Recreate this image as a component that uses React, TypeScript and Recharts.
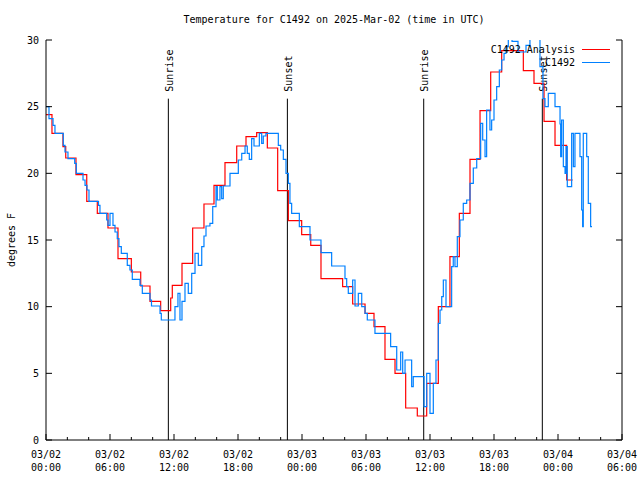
import React from "react";
import { Legend, Line, LineChart, ReferenceLine, XAxis, YAxis } from "recharts";

const FONT = "'DejaVu Sans Mono', 'Liberation Mono', monospace";

// hours since 03/02 00:00 UTC
const analysisHours = [
  0, 0.56, 1.59, 1.85, 2.81, 3.82, 4.81, 5.81, 6.75, 8.0, 8.88, 9.75, 10.75,
  11.69, 11.84, 12.75, 13.75, 14.81, 15.75, 16.78, 17.88, 18.75, 19.75, 20.75,
  21.72, 22.72, 23.97, 24.82, 25.78, 27.81, 28.75, 29.91, 30.75, 31.78, 32.72,
  33.72, 34.81, 35.69, 36.78, 37.87, 38.75, 39.75, 40.69, 41.69, 42.72, 44.75,
  45.75, 46.69, 47.72, 48.81, 49.38,
];
const analysisTemps = [
  24.4, 23.0, 22.0, 21.15, 19.9, 17.9, 17.0, 15.9, 13.6, 12.6, 11.55, 10.4, 9.7,
  10.65, 11.6, 13.25, 15.9, 17.7, 19.1, 20.8, 22.05, 22.75, 23.05, 21.9,
  18.7, 16.45, 15.4, 14.6, 12.1, 11.5, 10.2, 9.5, 8.5, 6.05, 5.0,
  2.4, 1.8, 4.25, 10.0, 13.75, 17.0, 21.05, 24.7, 27.6, 29.2, 27.7,
  26.75, 23.9, 22.1, 19.5, 19.5,
];

const obsHours = [
  0, 0.28, 0.66, 0.84, 1.62, 1.78, 2.06, 2.69, 2.84, 3.47, 3.66, 3.84, 4.03,
  4.92, 5.06, 5.69, 5.81, 6.0, 6.28, 6.47, 6.68, 6.84, 7.06, 7.62, 7.87, 8.09,
  8.81, 9.03, 9.75, 9.89, 10.69, 10.81, 12.09, 12.37, 12.56, 12.75, 13.03,
  13.34, 13.66, 13.97, 14.28, 14.6, 14.81, 15.0, 15.37, 15.63, 15.94, 16.06,
  16.31, 16.47, 16.62, 17.25, 18.03, 18.35, 18.66, 18.87, 19.06, 19.28, 19.5,
  20.0, 20.22, 20.37, 20.62, 21.78, 22.0, 22.25, 22.5, 22.72, 22.87, 23.03,
  23.75, 24.75, 25.78, 26.78, 28.03, 28.19, 28.34, 28.75, 28.97, 29.28, 29.6,
  29.91, 30.12, 30.84, 32.31, 32.88, 33.25, 33.44, 33.66, 34.28, 34.43, 35.44,
  35.69, 36.0, 36.31, 36.56, 36.78, 36.94, 37.1, 37.25, 37.5, 38.03, 38.18,
  38.34, 38.56, 38.81, 39.12, 39.44, 39.75, 40.06, 40.38, 40.75, 40.94, 41.16,
  41.31, 41.62, 41.78, 42.0, 42.25, 42.5, 42.72, 42.94, 43.12, 43.34, 43.69,
  44.25, 45.0, 45.37, 46.31, 46.59, 46.78, 47.09, 47.72, 48.19, 48.25, 48.34,
  48.5, 48.66, 48.75, 48.87, 49.28, 49.44, 49.59, 50.06, 50.22, 50.31, 50.37,
  50.69, 50.84, 51.06, 51.19,
];
const obsTemps = [
  25.0, 24.1, 23.6, 23.0, 22.1, 21.6, 21.1, 20.75, 20.0, 19.5, 19.1, 18.75, 17.9,
  17.6, 17.0, 16.5, 16.1, 17.0, 16.1, 15.6, 15.1, 14.5, 14.0, 13.1, 12.75, 12.05,
  11.6, 11.0, 10.5, 10.05, 9.5, 9.0, 10.0, 11.0, 9.0, 10.4, 11.75,
  11.0, 12.5, 14.0, 13.1, 14.5, 15.3, 16.05, 16.25, 17.5, 19.0, 18.0,
  19.0, 18.1, 19.05, 20.0, 21.0, 21.5, 22.05, 21.5, 21.05, 22.6, 22.05,
  23.0, 22.25, 22.8, 23.0, 22.1, 21.75, 21.05, 20.0, 19.25, 17.75, 17.0,
  16.0, 15.0, 14.05, 13.05, 12.1, 11.5, 11.0, 12.0, 10.05, 11.0, 10.0,
  9.5, 9.0, 8.0, 7.0, 5.25, 6.6, 5.0, 6.0, 4.0, 4.75, 2.5,
  5.0, 2.0, 4.25, 6.0, 8.75, 9.75, 10.75, 12.0, 10.0, 13.0, 13.75,
  13.0, 15.25, 16.5, 17.75, 18.0, 19.25, 20.4, 21.1, 23.75, 22.5, 21.25,
  24.75, 23.25, 24.0, 25.5, 26.5, 27.75, 28.5, 29.0, 29.5, 30.5, 29.9,
  29.1, 29.6, 30.5, 28.0, 25.6, 25.0, 26.0, 25.0, 23.7, 21.25, 24.0,
  20.5, 20.0, 22.0, 19.0, 23.0, 20.5, 23.0, 21.25, 17.25, 16.0, 23.0,
  21.25, 17.75, 16.0, 16.0,
];

const hourTicks = [
  0, 2, 4, 6, 8, 10, 12, 14, 16, 18, 20, 22, 24, 26, 28, 30, 32, 34, 36, 38,
  40, 42, 44, 46, 48, 50, 52, 54,
];
const tempTicks = [0, 5, 10, 15, 20, 25, 30];

const sunEvents = [
  { name: "Sunrise", hour: 11.47 },
  { name: "Sunset", hour: 22.63 },
  { name: "Sunrise", hour: 35.41 },
  { name: "Sunset", hour: 46.53 },
];
const sunLineTop = 25.6;

const seriesNames = ["C1492 Analysis", "C1492"];
const seriesColors = ["#ff0000", "#0080ff"];

const title = "Temperature for C1492 on 2025-Mar-02 (time in UTC)";
const yTitle = "degrees F";

const analysisData = analysisHours.map((hour, i) => ({ hour, temp: analysisTemps[i] }));
const obsData = obsHours.map((hour, i) => ({ hour, temp: obsTemps[i] }));

function BottomTick({ x, y, payload }: any) {
  const v = payload.value as number;
  const major = v % 6 === 0;
  const day = 2 + Math.floor(v / 24);
  const hh = String(v % 24).padStart(2, "0");
  return (
    <g>
      <line x1={x} y1={y} x2={x} y2={y - (major ? 6 : 3)} stroke="#000" />
      {major && (
        <text textAnchor="middle" fontFamily={FONT} fontSize={10} fill="#000">
          <tspan x={x} y={y + 18}>{`03/0${day}`}</tspan>
          <tspan x={x} y={y + 31}>{`${hh}:00`}</tspan>
        </text>
      )}
    </g>
  );
}

function TopTick({ x, y, payload }: any) {
  const major = payload.value % 6 === 0;
  return <line x1={x} y1={y} x2={x} y2={y + (major ? 6 : 3)} stroke="#000" />;
}

function LeftTick({ x, y, payload }: any) {
  return (
    <g>
      <line x1={x} y1={y} x2={x + 6} y2={y} stroke="#000" />
      <text x={x - 7} y={y + 3.5} textAnchor="end" fontFamily={FONT} fontSize={10} fill="#000">
        {payload.value}
      </text>
    </g>
  );
}

function RightTick({ x, y }: any) {
  return <line x1={x} y1={y} x2={x - 6} y2={y} stroke="#000" />;
}

function LegendBox() {
  return (
    <div style={{ fontFamily: FONT, fontSize: 10, color: "#000" }}>
      {seriesNames.map((name, i) => (
        <div
          key={name}
          style={{ display: "flex", justifyContent: "flex-end", alignItems: "center", height: 13 }}
        >
          <span style={{ lineHeight: "13px" }}>{name}</span>
          <span
            style={{
              display: "inline-block",
              width: 28,
              marginLeft: 7,
              borderTop: `1px solid ${seriesColors[i]}`,
            }}
          />
        </div>
      ))}
    </div>
  );
}

export default function App() {
  return (
    <div style={{ position: "absolute", left: 0, top: 0, width: 640, height: 480, background: "#fff" }}>
      <div
        style={{
          position: "absolute",
          left: 0,
          top: 14,
          width: 668,
          textAlign: "center",
          fontFamily: FONT,
          fontSize: 10,
          lineHeight: "12px",
          color: "#000",
          zIndex: 1,
        }}
      >
        {title}
      </div>
      <LineChart width={640} height={480} margin={{ top: 40, right: 0, bottom: 0, left: 0 }}>
        <XAxis
          type="number"
          dataKey="hour"
          domain={[0, 54]}
          ticks={hourTicks}
          interval={0}
          height={40}
          tickSize={0}
          tickMargin={0}
          tickLine={false}
          axisLine={{ stroke: "#000" }}
          tick={<BottomTick />}
        />
        <XAxis
          xAxisId="top"
          orientation="top"
          type="number"
          dataKey="hour"
          domain={[0, 54]}
          ticks={hourTicks}
          interval={0}
          height={0}
          tickSize={0}
          tickMargin={0}
          tickLine={false}
          axisLine={{ stroke: "#000" }}
          tick={<TopTick />}
        />
        <YAxis
          type="number"
          domain={[0, 30]}
          ticks={tempTicks}
          allowDataOverflow
          width={46}
          tickSize={0}
          tickMargin={0}
          tickLine={false}
          axisLine={{ stroke: "#000" }}
          tick={<LeftTick />}
          label={({ viewBox }: any) => (
            <text
              transform={`translate(${viewBox.x + 15}, ${viewBox.y + viewBox.height / 2}) rotate(-90)`}
              textAnchor="middle"
              fontFamily={FONT}
              fontSize={10}
              fill="#000"
            >
              {yTitle}
            </text>
          )}
        />
        <YAxis
          yAxisId="right"
          orientation="right"
          type="number"
          domain={[0, 30]}
          ticks={tempTicks}
          allowDataOverflow
          width={18}
          tickSize={0}
          tickMargin={0}
          tickLine={false}
          axisLine={{ stroke: "#000" }}
          tick={<RightTick />}
        />
        {sunEvents.map((ev, i) => (
          <ReferenceLine
            key={i}
            segment={[
              { x: ev.hour, y: 0 },
              { x: ev.hour, y: sunLineTop },
            ]}
            stroke="#000"
            strokeWidth={1}
            label={({ viewBox }: any) => (
              <text
                transform={`translate(${viewBox.x + 1}, ${viewBox.y - 7}) rotate(-90)`}
                textAnchor="start"
                dominantBaseline="central"
                fontFamily={FONT}
                fontSize={10}
                fill="#000"
              >
                {ev.name}
              </text>
            )}
          />
        ))}
        <Line
          data={analysisData}
          dataKey="temp"
          type="stepAfter"
          stroke={seriesColors[0]}
          strokeWidth={1.2}
          dot={false}
          activeDot={false}
          isAnimationActive={false}
        />
        <Line
          data={obsData}
          dataKey="temp"
          type="stepAfter"
          stroke={seriesColors[1]}
          strokeWidth={1.2}
          dot={false}
          activeDot={false}
          isAnimationActive={false}
        />
        <Legend
          layout="horizontal"
          verticalAlign="middle"
          align="center"
          content={() => <LegendBox />}
          wrapperStyle={{ position: "absolute", top: 43, left: 440, width: 170 }}
        />
      </LineChart>
    </div>
  );
}
